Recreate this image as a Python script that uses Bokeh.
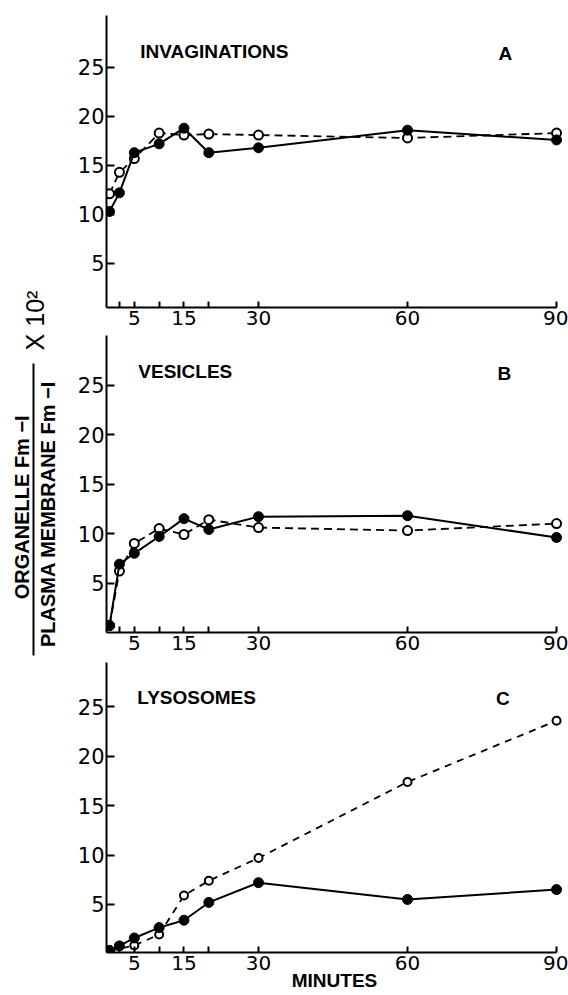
import math
from bokeh.plotting import figure
from bokeh.layouts import row, column
from bokeh.models import Range1d, FixedTicker, Label
from bokeh.core.properties import value
from bokeh.embed import file_html
from bokeh.resources import INLINE

# ---------------- data ----------------
minutes = [0, 2, 5, 10, 15, 20, 30, 60, 90]
x_ticks = [2, 5, 10, 15, 20, 30, 60, 90]
x_tick_labels = {2: "", 5: "5", 10: "", 15: "15", 20: "", 30: "30", 60: "60", 90: "90"}
y_ticks = [5, 10, 15, 20, 25]

inv_filled = [10.3, 12.2, 16.3, 17.2, 18.8, 16.3, 16.8, 18.6, 17.6]
inv_open = [12.1, 14.3, 15.7, 18.3, 18.1, 18.2, 18.1, 17.8, 18.3]

ves_filled = [0.7, 6.9, 8.0, 9.7, 11.5, 10.4, 11.7, 11.8, 9.6]
ves_open = [0.7, 6.2, 9.0, 10.5, 9.9, 11.4, 10.6, 10.3, 11.0]

lys_minutes_filled = [0, 2, 5, 10, 15, 20, 30, 60, 90]
lys_filled = [0.35, 0.8, 1.6, 2.65, 3.4, 5.2, 7.2, 5.5, 6.5]
lys_minutes_open = [0, 5, 10, 15, 20, 30, 60, 90]
lys_open = [0.3, 0.85, 1.95, 5.9, 7.4, 9.7, 17.4, 23.6]

titles = ["INVAGINATIONS", "VESICLES", "LYSOSOMES"]
letters = ["A", "B", "C"]
x_title = "MINUTES"

FONT_LBL = "Liberation Sans"
FONT_TICK = "DejaVu Sans"
X0 = -0.6


def make_panel(height, top, bottom, y_start, y_end, title, title_xy, letter, letter_xy,
               xf, yf, xo, yo, open_size=9, dash="8 5", xlabel=None):
    p = figure(width=500, height=height, output_backend="svg", toolbar_location=None,
               x_range=Range1d(X0, 91.2), y_range=Range1d(y_start, y_end),
               min_border_left=38, min_border_right=6,
               min_border_top=top, min_border_bottom=bottom)
    p.background_fill_color = "white"
    p.border_fill_color = "white"
    p.outline_line_color = None
    p.grid.visible = False

    xa = p.xaxis[0]
    xa.ticker = FixedTicker(ticks=x_ticks)
    xa.major_label_overrides = x_tick_labels
    xa.bounds = (X0, 90)
    xa.minor_tick_line_color = None
    xa.major_tick_in = 6
    xa.major_tick_out = 0
    xa.axis_line_width = 2
    xa.major_tick_line_width = 2
    xa.major_label_standoff = 3
    xa.major_label_text_font = FONT_TICK
    xa.major_label_text_font_size = "20px"
    xa.major_label_text_color = "black"
    if xlabel:
        xa.axis_label = xlabel
        xa.axis_label_standoff = -3
        xa.axis_label_text_font = FONT_LBL
        xa.axis_label_text_font_style = "bold"
        xa.axis_label_text_font_size = "19px"
        xa.axis_label_text_color = "black"

    ya = p.yaxis[0]
    ya.ticker = FixedTicker(ticks=y_ticks)
    ya.minor_tick_line_color = None
    ya.major_tick_in = 8
    ya.major_tick_out = 0
    ya.axis_line_width = 2
    ya.major_tick_line_width = 2
    ya.major_label_standoff = 2
    ya.major_label_text_font = FONT_TICK
    ya.major_label_text_font_size = "21px"
    ya.major_label_text_color = "black"

    # dashed / open series
    p.line(xo, yo, line_color="black", line_width=1.8, line_dash=dash)
    p.scatter(xo, yo, marker="circle", size=open_size, fill_color="white",
              line_color="black", line_width=2)
    # solid / filled series
    p.line(xf, yf, line_color="black", line_width=2)
    p.scatter(xf, yf, marker="circle", size=10, fill_color="black", line_color="black")

    p.text(x=[title_xy[0]], y=[title_xy[1]], text=[title], text_font=value(FONT_LBL),
           text_font_style="bold", text_font_size="19px", text_baseline="alphabetic",
           text_align="left", text_color="black")
    p.text(x=[letter_xy[0]], y=[letter_xy[1]], text=[letter], text_font=value(FONT_LBL),
           text_font_style="bold", text_font_size="19px", text_baseline="alphabetic",
           text_align="center", text_color="black")
    return p


pA = make_panel(335, 15, 28, 0.5, 30.3, titles[0], (6.2, 26.6), letters[0], (79.7, 26.4),
                minutes, inv_filled, minutes, inv_open)
pB = make_panel(324, 0, 27, 0.0, 30.0, titles[1], (5.8, 26.4), letters[1], (79.5, 26.2),
                minutes, ves_filled, minutes, ves_open)
pC = make_panel(335, 3, 42, 0.13, 29.5, titles[2], (5.6, 26.0), letters[2], (79.2, 25.9),
                lys_minutes_filled, lys_filled, lys_minutes_open, lys_open,
                open_size=8, dash="7 6", xlabel=x_title)

# ---------------- shared y-axis label (fraction) ----------------
H = 994
lab = figure(width=68, height=H, output_backend="svg", toolbar_location=None,
             x_range=Range1d(0, 68), y_range=Range1d(0, H),
             x_axis_type=None, y_axis_type=None, min_border=0)
lab.outline_line_color = None
lab.grid.visible = False
lab.background_fill_color = "white"

lab.add_layout(Label(x=21, y=490, text="ORGANELLE  Fm \u2212I", angle=math.pi / 2,
                     text_align="center", text_baseline="middle", text_font=FONT_LBL,
                     text_font_style="bold", text_font_size="20px", text_color="black"))
lab.add_layout(Label(x=47, y=486, text="PLASMA  MEMBRANE  Fm \u2212I", angle=math.pi / 2,
                     text_align="center", text_baseline="middle", text_font=FONT_LBL,
                     text_font_style="bold", text_font_size="20px", text_color="black"))
lab.add_layout(Label(x=34, y=674, text="X 10\u00b2", angle=math.pi / 2,
                     text_align="center", text_baseline="middle", text_font=FONT_LBL,
                     text_font_size="25px", text_color="black"))
lab.line([33, 33], [339, 631], line_color="black", line_width=2)

layout = row(lab, column(pA, pB, pC, spacing=0), spacing=0)

open("out.html", "w").write(file_html(layout, INLINE))
